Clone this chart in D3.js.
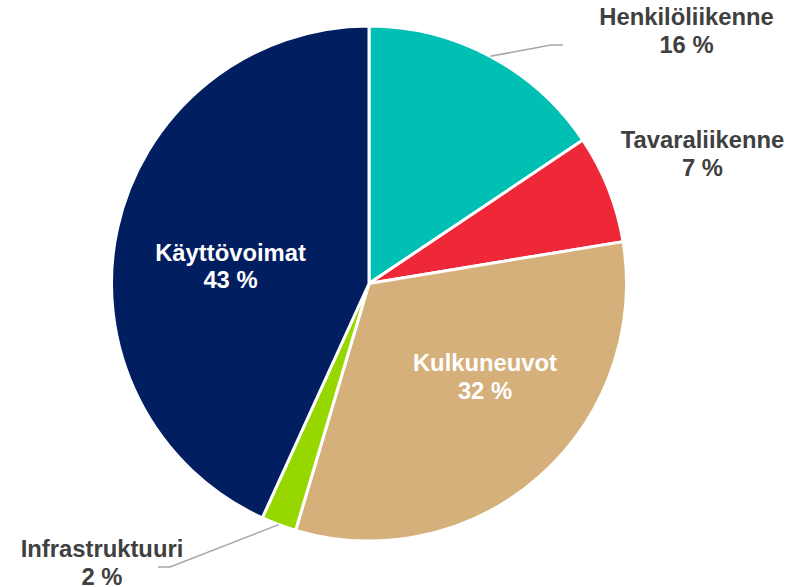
<!DOCTYPE html>
<meta charset="utf-8">
<script src="https://d3js.org/d3.v7.min.js"></script>
<style>
body { margin: 0; background: #fff; }
text { font-family: "Liberation Sans", Arial, sans-serif; font-weight: bold; }
</style>
<body>
<script>
// data (clockwise from 12 o'clock)
var categories = ["Henkilöliikenne", "Tavaraliikenne", "Kulkuneuvot", "Infrastruktuuri", "Käyttövoimat"];
var values = [15.6, 6.8, 32.2, 2.2, 43.2];
var percentLabels = ["16 %", "7 %", "32 %", "2 %", "43 %"];
var colors = ["#00bfb3", "#ee2839", "#d5b07b", "#97d700", "#001e60"];

var width = 800, height = 587;
var cx = 369, cy = 283.5, radius = 257.5;

// label placement: [x, y of first baseline, colour, leader line?]
var labelPos = [
    {x: 686.5, y: 25, fill: "#404040", leader: [[551, 45], [563, 45]]},
    {x: 702.5, y: 148, fill: "#404040"},
    {x: 485, y: 371, fill: "#fff"},
    {x: 102, y: 557, fill: "#404040", leader: [[170, 567], [158, 567]]},
    {x: 230.5, y: 260.5, fill: "#fff"}
];

var data = categories.map(function(c, i) {
    return {name: c, value: values[i], pct: percentLabels[i], color: colors[i], pos: labelPos[i]};
});

var svg = d3.select("body").append("svg")
    .attr("width", width)
    .attr("height", height);

var g = svg.append("g")
    .attr("transform", "translate(" + cx + "," + cy + ")");

var pie = d3.pie()
    .sort(null)
    .value(function(d) { return d.value; });

var arc = d3.arc()
    .innerRadius(0)
    .outerRadius(radius);

var arcs = pie(data);

g.selectAll("path.slice")
    .data(arcs)
    .enter().append("path")
    .attr("class", "slice")
    .attr("d", arc)
    .attr("fill", function(d) { return d.data.color; })
    .attr("stroke", "#fff")
    .attr("stroke-width", 3)
    .attr("stroke-linejoin", "round");

// leader lines from slice edge to label
var edge = d3.arc().innerRadius(radius).outerRadius(radius);
svg.selectAll("polyline.leader")
    .data(arcs.filter(function(d) { return d.data.pos.leader; }))
    .enter().append("polyline")
    .attr("class", "leader")
    .attr("points", function(d) {
        var c = edge.centroid(d);
        var pts = [[c[0] + cx, c[1] + cy]].concat(d.data.pos.leader);
        return pts.map(function(p) { return p.join(","); }).join(" ");
    })
    .attr("fill", "none")
    .attr("stroke", "#a6a6a6")
    .attr("stroke-width", 1.5);

// labels
var labels = svg.selectAll("text.label")
    .data(data)
    .enter().append("text")
    .attr("class", "label")
    .attr("text-anchor", "middle")
    .attr("font-size", "23.8px")
    .attr("fill", function(d) { return d.pos.fill; });

labels.append("tspan")
    .attr("x", function(d) { return d.pos.x; })
    .attr("y", function(d) { return d.pos.y; })
    .text(function(d) { return d.name; });

labels.append("tspan")
    .attr("x", function(d) { return d.pos.x; })
    .attr("y", function(d) { return d.pos.y + 27.5; })
    .text(function(d) { return d.pct; });
</script>
</body>
